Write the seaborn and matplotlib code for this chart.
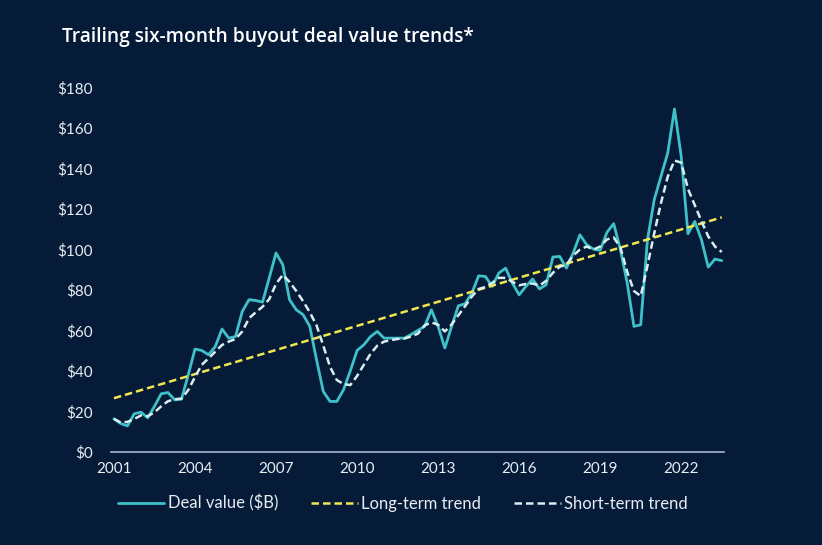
import numpy as np
import pandas as pd
import seaborn as sns
import matplotlib
matplotlib.use('Agg')
import matplotlib.pyplot as plt
from matplotlib import font_manager

# 분기별 데이터 (2001Q1 ~ 2023Q3), 그림에서 읽은 값
quarters = [2001 + i / 4 for i in range(91)]

deal_value = [16.3, 14.0, 12.8, 18.8, 19.6, 16.8, 22.5, 28.7, 29.3, 25.7,
              26.0, 38.0, 50.8, 50.1, 48.0, 52.0, 60.7, 56.2, 57.0, 69.4,
              75.2, 74.8, 74.0, 86.0, 98.3, 92.5, 75.2, 70.2, 67.8, 62.0,
              45.5, 29.8, 24.9, 24.9, 30.7, 40.0, 50.1, 52.9, 57.0, 59.5,
              56.2, 56.2, 56.2, 56.2, 58.0, 60.0, 62.0, 70.2, 62.0, 51.3,
              62.0, 72.2, 73.2, 78.5, 87.0, 86.7, 81.8, 88.4, 90.8, 83.4,
              77.6, 81.8, 85.4, 80.5, 82.6, 96.3, 96.6, 90.8, 98.3, 107.3,
              102.4, 100.2, 99.6, 108.5, 112.8, 99.9, 83.4, 62.0, 62.8, 104.8,
              124.6, 136.2, 147.7, 169.5, 146.0, 107.8, 113.9, 104.8, 91.3, 95.3,
              94.5]

short_term = [16.3, 14.5, 14.8, 16.2, 18.0, 17.6, 19.5, 22.5, 25.0, 26.0,
              26.3, 30.5, 37.0, 43.0, 46.2, 49.5, 52.8, 54.5, 55.8, 59.5,
              66.0, 69.0, 71.7, 75.5, 83.0, 87.5, 84.0, 79.5, 74.5, 69.0,
              62.5, 52.5, 42.0, 35.5, 33.5, 33.0, 37.5, 43.0, 48.5, 52.5,
              54.5, 55.2, 55.8, 56.0, 57.0, 58.4, 62.5, 64.0, 62.8, 59.5,
              63.0, 67.5, 72.0, 76.8, 80.5, 81.5, 83.5, 86.0, 86.0, 84.0,
              82.3, 83.0, 83.2, 82.2, 84.5, 88.5, 91.5, 92.5, 97.0, 100.0,
              101.5, 100.0, 101.5, 105.0, 106.0, 101.0, 89.0, 79.5, 77.0, 92.0,
              108.0, 123.0, 136.0, 144.0, 143.0, 130.0, 122.0, 114.0, 106.5, 101.5,
              98.8]

# 장기 추세선 (시작/끝 값)
long_dates = [quarters[0], quarters[-1]]
long_term = [26.5, 115.9]

year_ticks = [2001, 2004, 2007, 2010, 2013, 2016, 2019, 2022]
y_ticks = [0, 20, 40, 60, 80, 100, 120, 140, 160, 180]

df = pd.DataFrame({'quarter': quarters, 'deal': deal_value, 'short': short_term})
df_long = pd.DataFrame({'quarter': long_dates, 'long': long_term})

BG = '#051b38'
TEAL = '#3ec1c8'
YELLOW = '#f0e650'
WHITE = '#d8eef0'
TXT = '#e8edf3'

sns.set_theme(style='white')
plt.rcParams['font.family'] = ['Lato', 'DejaVu Sans']

# 좁은 글꼴이 있으면 사용
names = {f.name for f in font_manager.fontManager.ttflist}
narrow = 'Liberation Sans Narrow' if 'Liberation Sans Narrow' in names else 'Lato'
tick_fs = 12.5 if narrow != 'Lato' else 11
leg_fs = 13 if narrow != 'Lato' else 12

fig = plt.figure(figsize=(8.22, 5.45), dpi=100, facecolor=BG)
ax = fig.add_axes([0.135, 0.171, 0.746, 0.668])
ax.set_facecolor(BG)

sns.lineplot(data=df, x='quarter', y='deal', ax=ax, color=TEAL, linewidth=2.0,
             label='Deal value ($B)')
sns.lineplot(data=df_long, x='quarter', y='long', ax=ax, color=YELLOW, linewidth=1.8,
             linestyle=(0, (3, 1.6)), label='Long-term trend')
sns.lineplot(data=df, x='quarter', y='short', ax=ax, color=WHITE, linewidth=1.8,
             linestyle=(0, (3, 1.6)), label='Short-term trend')

ax.set_xlim(2000.89, 2023.59)
ax.set_ylim(0, 180)
ax.set_xticks(year_ticks)
ax.set_xticklabels([str(y) for y in year_ticks], family=narrow, fontsize=tick_fs, color=TXT)
ax.set_yticks(y_ticks)
ax.set_yticklabels([f'${v}' for v in y_ticks], family=narrow, fontsize=tick_fs, color=TXT)
ax.tick_params(axis='x', length=0, pad=7)
ax.tick_params(axis='y', length=0, pad=13)
ax.set_xlabel('')
ax.set_ylabel('')

for s in ['top', 'right', 'left']:
    ax.spines[s].set_visible(False)
ax.spines['bottom'].set_color('#a7b6cc')
ax.spines['bottom'].set_linewidth(1.2)

ax.get_legend().remove()
handles, labels = ax.get_legend_handles_labels()
leg = fig.legend(handles, labels, loc='center', bbox_to_anchor=(0.49, 0.077), ncol=3,
                 frameon=False, handlelength=2.8, handletextpad=0.2, columnspacing=2.0,
                 prop={'family': narrow, 'size': leg_fs})
for t in leg.get_texts():
    t.set_color(TXT)

fig.text(62 / 822, 1 - 37 / 545, 'Trailing six-month buyout deal value trends*',
         color='white', fontsize=13.8, fontweight='semibold', va='center', ha='left',
         family=['Open Sans', 'DejaVu Sans'])

fig.savefig('out.png', dpi=100, facecolor=BG)
